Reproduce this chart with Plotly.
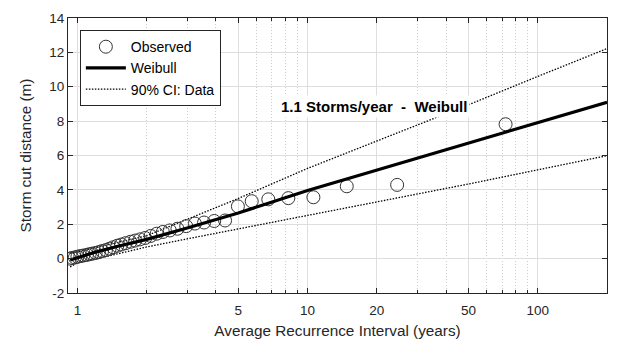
import plotly.graph_objects as go
import math

# Observed storm cut distances (ARI in years, distance in m)
obs_ari = [0.925, 0.95, 0.975, 1.00, 1.03, 1.06, 1.10, 1.13, 1.16, 1.20, 1.24, 1.28, 1.33,
           1.38, 1.43, 1.49, 1.55, 1.62, 1.70, 1.78, 1.87, 1.97, 2.08, 2.21, 2.35, 2.52,
           2.72, 2.97, 3.24, 3.55, 3.93, 4.38, 4.98, 5.72, 6.75, 8.25, 10.6, 14.8, 24.5, 72.5]
obs_cut = [0.00, 0.04, 0.07, 0.11, 0.15, 0.18, 0.22, 0.26, 0.29, 0.33, 0.38, 0.44, 0.50,
           0.58, 0.66, 0.75, 0.82, 0.90, 0.98, 1.05, 1.12, 1.20, 1.32, 1.45, 1.55, 1.64,
           1.74, 1.89, 2.04, 2.10, 2.19, 2.22, 3.04, 3.34, 3.45, 3.52, 3.57, 4.21, 4.29, 7.82]

# Weibull fit line
fit_ari = [0.93, 1.0, 1.2, 1.5, 2, 3, 5, 10, 20, 50, 100, 200]
fit_cut = [-0.08, 0.06, 0.38, 0.72, 1.12, 1.78, 2.66, 3.96, 5.15, 6.72, 7.93, 9.1]

# 90% confidence interval
ci_ari = [0.93, 1, 1.5, 2, 3, 5, 10, 20, 50, 100, 200]
ci_upper = [0.30, 0.40, 0.95, 1.33, 2.29, 3.50, 5.25, 6.83, 8.95, 10.6, 12.22]
ci_lower = [-0.48, -0.25, 0.28, 0.68, 1.15, 1.74, 2.50, 3.30, 4.34, 5.16, 5.99]

x_ticks = [1, 5, 10, 20, 50, 100]
x_minor = [2, 3, 4, 6, 7, 8, 9, 30, 40, 60, 70, 80, 90]
y_ticks = [-2, 0, 2, 4, 6, 8, 10, 12, 14]
y_labels = ["-2", "0", "2", "4", "6", "8", "10", "12", "14"]

FONT = "Liberation Sans, Arial, sans-serif"
AX = "#262626"
DOT = "1.5px,1.5px"

fig = go.Figure()
fig.add_trace(go.Scatter(x=ci_ari, y=ci_upper, mode="lines", name="90% CI: Data",
                         line=dict(color="black", width=1.3, dash=DOT), showlegend=False))
fig.add_trace(go.Scatter(x=ci_ari, y=ci_lower, mode="lines", name="90% CI: Data",
                         line=dict(color="black", width=1.3, dash=DOT), showlegend=False))
fig.add_trace(go.Scatter(x=obs_ari, y=obs_cut, mode="markers", name="Observed",
                         marker=dict(symbol="circle-open", size=13, color="#333333",
                                     line=dict(width=1, color="#333333"))))
fig.add_trace(go.Scatter(x=fit_ari, y=fit_cut, mode="lines", name="Weibull",
                         line=dict(color="black", width=3.2)))
fig.add_trace(go.Scatter(x=[None], y=[None], mode="lines", name="90% CI: Data",
                         line=dict(color="black", width=1.3, dash=DOT)))

fig.add_annotation(x=0.87, y=8.85, xref="x", yref="y", xanchor="left", yanchor="middle",
                   text="<b>1.1 Storms/year\u00a0\u00a0-\u00a0\u00a0Weibull</b>",
                   showarrow=False, bgcolor="white", borderpad=2,
                   font=dict(family=FONT, size=15, color="black"))

fig.update_layout(
    width=619, height=343,
    margin=dict(l=60, r=20, t=10, b=58, autoexpand=False),
    paper_bgcolor="white", plot_bgcolor="white",
    font=dict(family=FONT, size=13.5, color=AX),
    legend=dict(x=0.022, y=0.956, xanchor="left", yanchor="top",
                bgcolor="white", bordercolor=AX, borderwidth=1,
                font=dict(family=FONT, size=14, color="black"),
                tracegroupgap=0, itemwidth=40),
    xaxis=dict(type="log", range=[math.log10(0.91), math.log10(200)],
               tickmode="array", tickvals=x_ticks, ticktext=[str(v) for v in x_ticks],
               ticks="inside", ticklen=5, tickcolor=AX, mirror="ticks",
               showline=True, linecolor=AX, linewidth=1,
               showgrid=True, gridcolor="#dedede", gridwidth=1,
               zeroline=False, ticklabelstandoff=5, automargin=False,
               tickfont=dict(size=13.5, color=AX),
               minor=dict(tickmode="array", tickvals=x_minor, showgrid=True,
                          gridcolor="#cccccc", griddash="1px,2px", gridwidth=1,
                          ticks="inside", ticklen=3, tickcolor=AX),
               title=dict(text="Average Recurrence Interval (years)",
                          font=dict(size=15.3, color=AX), standoff=8)),
    yaxis=dict(range=[-2, 14], tickmode="array", tickvals=y_ticks, ticktext=y_labels,
               ticks="inside", ticklen=5, tickcolor=AX, mirror="ticks",
               showline=True, linecolor=AX, linewidth=1,
               showgrid=True, gridcolor="#dedede", gridwidth=1,
               zeroline=False, automargin=False, tickfont=dict(size=13.5, color=AX),
               title=dict(text="Storm cut distance (m)",
                          font=dict(size=15.3, color=AX), standoff=13)),
)

fig.write_html("out.html")
